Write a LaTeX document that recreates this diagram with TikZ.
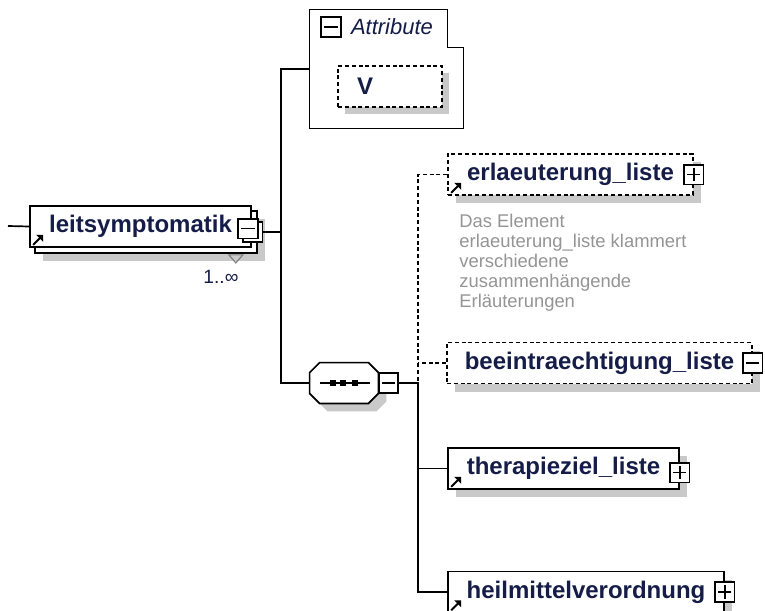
\documentclass[tikz,border=0pt]{standalone}
\usepackage{fontspec}
\setmainfont{Liberation Sans}
\usepackage{tikz}
\usetikzlibrary{arrows}
\usetikzlibrary{positioning}
\usetikzlibrary{shadows}
\definecolor{mnavy}{rgb}{0.08, 0.11, 0.28}
\definecolor{dgray}{rgb}{0.58, 0.58, 0.58}
\definecolor{sgray}{rgb}{0.79, 0.79, 0.79}
\tikzset{elem/.style = {draw, line width=0.85pt, fill=white, text=mnavy,
                        font=\bfseries\fontsize{12}{14}\selectfont,
                        minimum height=20.5pt, inner sep=0pt}}
\tikzset{opt/.style = {elem, dash pattern=on 2pt off 1.4pt}}
\tikzset{shade/.style = {drop shadow={shadow xshift=4pt, shadow yshift=-4pt,
                                      fill=sgray, opacity=1}}}
\tikzset{btn/.style = {draw, line width=0.8pt, fill=white, minimum size=9.8pt, inner sep=0pt}}
\tikzset{minusbtn/.style = {btn, path picture={
           \draw [line width=0.8pt] ([xshift=1.6pt]path picture bounding box.west)
                                 -- ([xshift=-1.6pt]path picture bounding box.east);}}}
\tikzset{plusbtn/.style = {btn, path picture={
           \draw [line width=0.8pt] ([xshift=1.6pt]path picture bounding box.west)
                                 -- ([xshift=-1.6pt]path picture bounding box.east);
           \draw [line width=0.8pt] ([yshift=1.6pt]path picture bounding box.south)
                                 -- ([yshift=-1.6pt]path picture bounding box.north);}}}
\tikzset{wire/.style = {line width=0.85pt}}
\tikzset{optwire/.style = {wire, dash pattern=on 2pt off 1.4pt}}
\newcommand\refmark[1]{%
    \draw [line width=1pt] ([shift={(4, -3)}]#1.south west) -- ++(7, -7);
    \fill ([shift={(14, -13)}]#1.south west) -- ++(-7, 0) -- ++(7, 7) -- cycle;}

\begin{document}
\begin{tikzpicture}[x=0.5pt, y=-0.5pt]
    \useasboundingbox (0, 0) rectangle (765, 610);
    \clip (0, 0) rectangle (765, 610);

    % root element
    \node [elem, shade, minimum width=111pt, minimum height=21pt] (leitbk) at (146, 232) {};
    \node [elem, minimum width=110.5pt] (leit) at (140.5, 226.5) {leitsymptomatik\hspace{4pt}};
    \node [minusbtn] (leitbtnbk) at (252.5, 232) {};
    \node [minusbtn] (leitbtn) at (248, 228.5) {};
    \draw [gray, line width=0.6pt] ([shift={(-29, 1)}]leitbk.south east) -- ++(14, 0) -- ++(-7, 8) -- cycle;
    \node [text=mnavy, font=\fontsize{9.6}{11}\selectfont, inner sep=0pt] (leitmult) at (221, 277) {1..∞};
    \coordinate (in) at (8, 226);

    % attributes
    \node [minimum width=76.5pt, minimum height=59pt] (attr) at (386.5, 69) {};
    \draw [wire, fill=white] (attr.north west) -- ([xshift=-8pt]attr.north east)
        |- ([yshift=-19pt]attr.north east) -- (attr.south east) -- (attr.south west) -- cycle;
    \node [minusbtn] (attrbtn) at (331, 27) {};
    \node [right=4.5pt of attrbtn, inner sep=0pt, text=mnavy,
           font=\itshape\fontsize{11}{13}\selectfont] (attrlbl) {Attribute};
    \node [opt, drop shadow={shadow xshift=3.5pt, shadow yshift=-3.5pt, fill=sgray, opacity=1},
           text width=33pt, inner xsep=9.5pt, align=left] (v) at (390, 86.5) {V};

    % sequence
    \node [minimum width=34pt, minimum height=20pt, inner sep=0pt] (seq) at (344, 383) {};
    \draw [wire, fill=white, shade] ([xshift=5pt]seq.north west) -- ([xshift=-5pt]seq.north east)
        -- ([yshift=-5pt]seq.north east) -- ([yshift=5pt]seq.south east)
        -- ([xshift=-5pt]seq.south east) -- ([xshift=5pt]seq.south west)
        -- ([yshift=5pt]seq.south west) -- ([yshift=-5pt]seq.north west) -- cycle;
    \draw [wire] ([xshift=5pt]seq.west) -- ([xshift=-4pt]seq.east);
    \foreach \d in {-11, -1, 11}
        \fill ([xshift=\d*0.5pt]seq.center) +(-3, -3) rectangle +(3, 3);
    \node [minusbtn, minimum width=9.5pt, minimum height=10pt] (seqbtn) at (388.5, 383) {};

    % children
    \node [opt, shade, minimum width=122.5pt] (erl) at (570.5, 174.5) {erlaeuterung\_liste};
    \node [plusbtn] (erlbtn) at (erl.east) {};
    \node [anchor=north west, inner sep=0pt, text=dgray, align=left,
           font=\fontsize{9.2}{10}\selectfont] (erldoc) at (459, 214)
          {Das Element\\erlaeuterung\_liste klammert\\verschiedene\\zusammenhängende\\Erläuterungen};
    \node [opt, shade, minimum width=152.5pt] (bee) at (599.5, 363) {beeintraechtigung\_liste};
    \node [minusbtn] (beebtn) at (bee.east) {};
    \node [elem, shade, minimum width=115.5pt] (ther) at (563.5, 468.5) {therapieziel\_liste};
    \node [plusbtn] (therbtn) at ([yshift=-2pt]ther.east) {};
    \node [elem, shade, minimum width=138pt] (heil) at (586, 592) {heilmittelverordnung};
    \node [plusbtn] (heilbtn) at (heil.east) {};

    \refmark{leit}
    \refmark{erl}
    \refmark{ther}
    \refmark{heil}

    % connectors
    \coordinate (trunk) at (281, 0);
    \coordinate (kids) at (418, 0);
    \draw [wire] (in) -- (leit.west);
    \draw [wire] (leitbtnbk.east) -- (leitbtnbk.east -| trunk);
    \draw [wire] (attr.west) -| (trunk |- seq.west) -- (seq.west);
    \draw [wire] (seqbtn.east) -- (seqbtn.east -| kids) |- (heil.west);
    \draw [wire] (ther.west) -- (ther.west -| kids);
    \draw [optwire] (erl.west) -| (kids |- seqbtn.east);
    \draw [optwire] (bee.west) -- (bee.west -| kids);
\end{tikzpicture}
\end{document}
